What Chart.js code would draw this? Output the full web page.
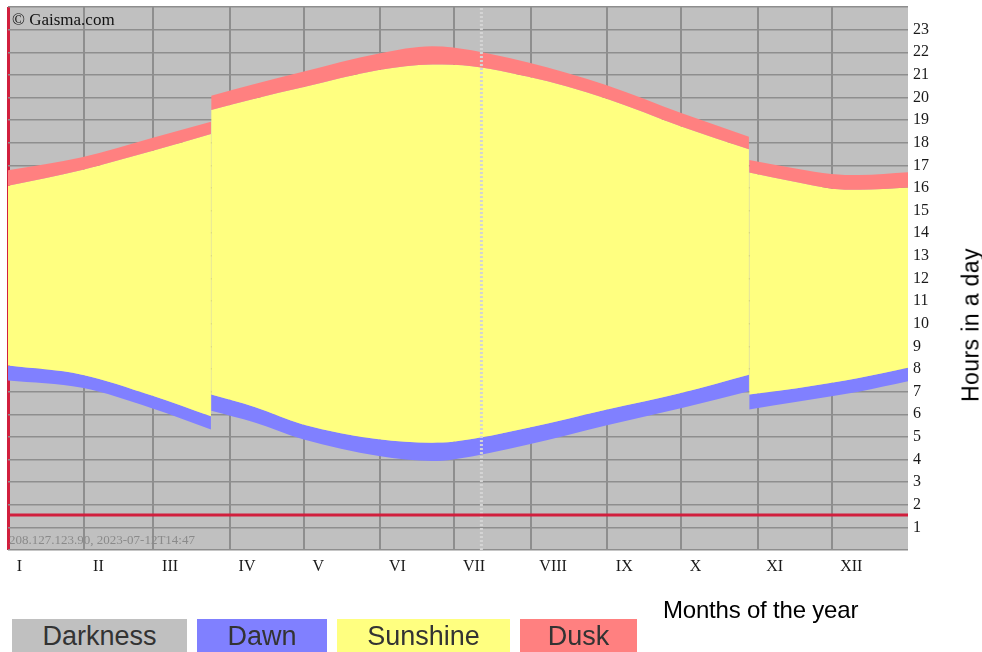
<!DOCTYPE html>
<html>
<head>
<meta charset="utf-8">
<script src="https://cdn.jsdelivr.net/npm/chart.js@4"></script>
<style>
  html, body { margin: 0; padding: 0; background: #fff; }
  #wrap { position: relative; width: 982px; height: 652px; overflow: hidden; }
  #wrap canvas { position: absolute; left: 0; top: 0; }
  .note { position: absolute; white-space: nowrap; }
  .legend { position: absolute; top: 619px; height: 40px; line-height: 34px; text-align: center;
            font-family: "Liberation Sans", Arial, sans-serif; font-size: 27px; color: #333; }
</style>
</head>
<body>
<div id="wrap">
  <canvas id="sunChart" width="982" height="652"></canvas>
  <div class="note" style="left:12px;top:10px;font:17px 'Liberation Serif',serif;color:#111;">© Gaisma.com</div>
  <div class="note" style="left:9px;top:532px;font:13px 'Liberation Serif',serif;color:#8a8a8a;">208.127.123.90, 2023-07-12T14:47</div>
  <div class="note" style="left:663px;top:596px;font:24px 'Liberation Sans',Arial,sans-serif;color:#000;letter-spacing:-0.2px;">Months of the year</div>
  <div class="note" style="left:971px;top:325px;font:23px 'Liberation Sans',Arial,sans-serif;color:#000;letter-spacing:0.4px;transform:translate(-50%,-50%) rotate(-90deg);">Hours in a day</div>
  <div class="legend" style="left:12px;width:175px;background:#c0c0c0;">Darkness</div>
  <div class="legend" style="left:197px;width:130px;background:#8080ff;">Dawn</div>
  <div class="legend" style="left:337px;width:173px;background:#ffff80;">Sunshine</div>
  <div class="legend" style="left:520px;width:117px;background:#ff8080;">Dusk</div>
</div>
<script>
// day of year for each sample (gaps mark the clock changes)
const days       = [0,     30,    58,    82.3,  82.35, 82.4,  100,   119.6, 150.4, 172,   180.5, 211,   242.5, 273.3, 300.5, 300.55, 300.6, 320,   334,   345,   365];
const duskTop    = [16.78, 17.36, 18.20, 18.93, null,  20.08, 20.60, 21.14, 21.95, 22.27, 22.21, 21.55, 20.55, 19.30, 18.27, null,   17.24, 16.85, 16.62, 16.57, 16.70];
const duskBottom = [16.10, 16.80, 17.62, 18.39, null,  19.45, 19.95, 20.45, 21.21, 21.46, 21.45, 20.92, 19.96, 18.71, 17.71, null,   16.68, 16.25, 15.97, 15.92, 16.02];
const dawnTop    = [8.15,  7.75,  6.84,  5.91,  null,  6.87,  6.32,  5.55,  4.89,  4.74,  4.78,  5.40,  6.20,  6.95,  7.75,  null,   6.87,  7.15,  7.39,  7.60,  8.06];
const dawnBottom = [7.49,  7.17,  6.28,  5.33,  null,  6.15,  5.63,  4.89,  4.15,  3.93,  4.00,  4.66,  5.50,  6.28,  7.02,  null,   6.21,  6.55,  6.80,  7.00,  7.46];

const monthStarts = [0, 31, 59, 90, 120, 151, 181, 212, 243, 273, 304, 334, 365];
const monthLabels = ['I', 'II', 'III', 'IV', 'V', 'VI', 'VII', 'VIII', 'IX', 'X', 'XI', 'XII'];
const hourTicks = [1, 2, 3, 4, 5, 6, 7, 8, 9, 10, 11, 12, 13, 14, 15, 16, 17, 18, 19, 20, 21, 22, 23];

const markerHour = [1.55, 1.55];
const todayDay = 192;

const GRID = '#8e8e8e';
const CRIMSON = '#d11f3d';

const toPoints = vals => days.map((d, i) => ({ x: d, y: vals[i] }));

// paints the darkness colour behind the plot
const plotBackground = {
  id: 'plotBackground',
  beforeDraw(chart) {
    const { ctx, chartArea: a } = chart;
    ctx.save();
    ctx.fillStyle = '#c0c0c0';
    ctx.fillRect(a.left, a.top, a.right - a.left, a.bottom - a.top);
    ctx.restore();
  }
};

const band = (vals, fill, color) => ({
  data: toPoints(vals),
  fill: fill,
  backgroundColor: color,
  borderWidth: 0,
  pointRadius: 0,
  cubicInterpolationMode: 'monotone',
  spanGaps: false
});

new Chart(document.getElementById('sunChart'), {
  type: 'line',
  data: {
    datasets: [
      band(duskTop, '+1', '#ff8080'),
      band(duskBottom, '+1', '#ffff80'),
      band(dawnTop, '+1', '#8080ff'),
      band(dawnBottom, false, 'transparent'),
      {
        data: [{ x: 0, y: markerHour[0] }, { x: 365, y: markerHour[1] }],
        borderColor: CRIMSON, borderWidth: 3, pointRadius: 0, fill: false, order: -1
      },
      {
        data: [{ x: todayDay, y: 0 }, { x: todayDay, y: 24 }],
        borderColor: '#d4d4d4', borderWidth: 3, borderDash: [2, 2], pointRadius: 0, fill: false, order: -1
      }
    ]
  },
  options: {
    responsive: false,
    animation: false,
    devicePixelRatio: 1,
    layout: { padding: { top: 7, left: 8 } },
    plugins: { legend: { display: false }, tooltip: { enabled: false } },
    scales: {
      xGrid: {
        type: 'linear', position: 'bottom', min: 0, max: 365,
        border: { display: false },
        grid: {
          drawTicks: false,
          color: ctx => ctx.index === 0 ? CRIMSON : (ctx.index === monthStarts.length - 1 ? 'transparent' : GRID),
          lineWidth: ctx => ctx.index === 0 ? 3 : 2
        },
        ticks: { display: false },
        afterBuildTicks: axis => { axis.ticks = monthStarts.map(v => ({ value: v })); },
        afterFit: axis => { axis.height = 0; }
      },
      x: {
        type: 'linear', position: 'bottom', min: 0, max: 365,
        border: { display: false },
        grid: { display: false, drawTicks: false },
        ticks: {
          autoSkip: false, maxRotation: 0, align: 'start', padding: 7,
          color: '#1a1a1a',
          font: { family: 'Liberation Serif', size: 16 },
          callback: (v, i) => monthLabels[i]
        },
        afterBuildTicks: axis => { axis.ticks = monthStarts.slice(0, 12).map(v => ({ value: v + 3.5 })); },
        afterFit: axis => { axis.height = 102; axis.paddingLeft = 0; axis.paddingRight = 0; }
      },
      y: {
        position: 'right', min: 0, max: 24,
        border: { display: false },
        grid: { color: GRID, lineWidth: 1.5, drawTicks: false },
        ticks: {
          padding: 5,
          color: '#1a1a1a',
          font: { family: 'Liberation Serif', size: 16 },
          callback: v => hourTicks.includes(v) ? v : ''
        },
        afterBuildTicks: axis => {
          axis.ticks = [0].concat(hourTicks, [24]).map(v => ({ value: v }));
        },
        afterFit: axis => { axis.width = 74; axis.paddingTop = 0; axis.paddingBottom = 0; }
      }
    }
  },
  plugins: [plotBackground]
});
</script>
</body>
</html>
